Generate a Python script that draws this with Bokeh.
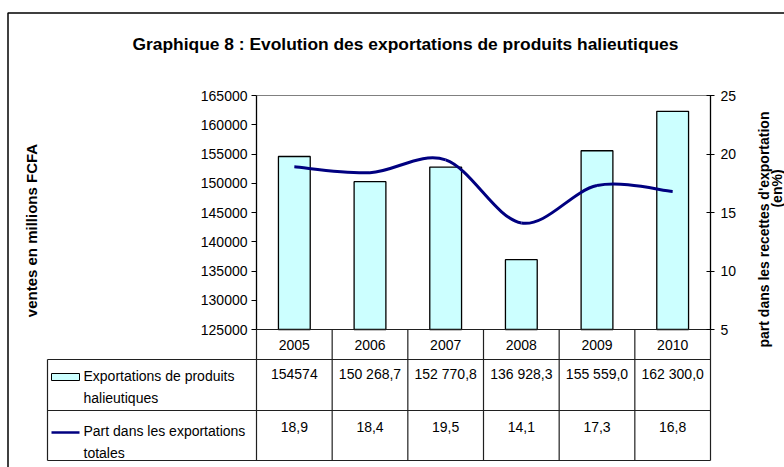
import numpy as np
from bokeh.plotting import figure
from bokeh.models import Range1d, LinearAxis, FixedTicker, NumeralTickFormatter
from bokeh.core.properties import value
from bokeh.embed import file_html
from bokeh.resources import INLINE

# ---------------- data ----------------
years = ["2005", "2006", "2007", "2008", "2009", "2010"]
exports = [154574.0, 150268.7, 152770.8, 136928.3, 155559.0, 162300.0]
export_labels = ["154574", "150 268,7", "152 770,8", "136 928,3", "155 559,0", "162 300,0"]
share = [18.9, 18.4, 19.5, 14.1, 17.3, 16.8]
share_labels = ["18,9", "18,4", "19,5", "14,1", "17,3", "16,8"]
left_ticks = [125000, 130000, 135000, 140000, 145000, 150000, 155000, 160000, 165000]
right_ticks = [5, 10, 15, 20, 25]
series_bar_name = ["Exportations de produits", "halieutiques"]
series_line_name = ["Part dans les exportations", "totales"]
title_text = "Graphique 8 : Evolution des exportations de produits halieutiques"
left_label = "ventes en millions FCFA"
right_label = ["part dans les recettes d'exportation", "(en%)"]

# ---------------- layout (canvas pixels) ----------------
W, H = 784, 467
PL, PR, PT, PB = 256, 710, 95, 329
n = len(years)
unit = (PR - PL) / n
lo, hi = left_ticks[0], left_ticks[-1]
lppx = (hi - lo) / (PB - PT)
ystart = lo - (H - PB) * lppx
rlo, rhi = right_ticks[0], right_ticks[-1]
rppx = (rhi - rlo) / (PB - PT)
rstart = rlo - (H - PB) * rppx

FONT = value("Liberation Sans")
BAR_FILL = "#CCFFFF"
LINE_COL = "#000080"

p = figure(width=W, height=H,
           x_range=Range1d(-PL / unit, (W - PL) / unit),
           y_range=Range1d(ystart, ystart + H * lppx),
           x_axis_type=None, y_axis_type=None,
           output_backend="svg", toolbar_location=None,
           min_border=0, outline_line_color=None)
p.background_fill_color = "white"
p.border_fill_color = "white"
p.extra_y_ranges = {"right": Range1d(rstart, rstart + H * rppx), "px": Range1d(H, 0)}
p.extra_x_ranges = {"px": Range1d(0, W)}

xc = [i + 0.5 for i in range(n)]

# outer frame (top and left visible)
p.line(x=[7.5, 7.5, W], y=[H, 12.5, 12.5], x_range_name="px", y_range_name="px",
       line_color="black", line_width=1.5)

# plot top border
p.segment(x0=[0], y0=[hi], x1=[n], y1=[hi], line_color="#808080", line_width=1)

# bars
p.vbar(x=xc, top=exports, bottom=lo, width=0.42, fill_color=BAR_FILL,
       line_color="black", line_width=1.3)

# smoothed line (Bezier segments from the data points)
sh = np.array(share, dtype=float)
xs = np.array(xc, dtype=float)
spad = np.concatenate([[sh[0]], sh, [sh[-1]]])
xpad = np.concatenate([[xs[0]], xs, [xs[-1]]])
bx0, by0, bx1, by1, cx0, cy0, cx1, cy1 = [], [], [], [], [], [], [], []
for i in range(n - 1):
    bx0.append(xs[i]); by0.append(sh[i])
    bx1.append(xs[i + 1]); by1.append(sh[i + 1])
    cx0.append(xs[i] + (xpad[i + 2] - xpad[i]) / 6)
    cy0.append(sh[i] + (spad[i + 2] - spad[i]) / 6)
    cx1.append(xs[i + 1] - (xpad[i + 3] - xpad[i + 1]) / 6)
    cy1.append(sh[i + 1] - (spad[i + 3] - spad[i + 1]) / 6)
p.bezier(x0=bx0, y0=by0, x1=bx1, y1=by1, cx0=cx0, cy0=cy0, cx1=cx1, cy1=cy1,
         y_range_name="right", line_color=LINE_COL, line_width=3)

# axes
yl = LinearAxis(fixed_location=0, bounds=(lo, hi), ticker=FixedTicker(ticks=left_ticks),
                formatter=NumeralTickFormatter(format="0"),
                major_tick_in=0, major_tick_out=5, minor_tick_in=0, minor_tick_out=0,
                major_label_standoff=4, axis_line_color="black", axis_line_width=1.3,
                major_tick_line_color="black",
                major_label_text_font="Liberation Sans", major_label_text_font_size="14px",
                major_label_text_color="black")
p.add_layout(yl, "left")
yr = LinearAxis(y_range_name="right", fixed_location=n, bounds=(rlo, rhi),
                ticker=FixedTicker(ticks=right_ticks),
                major_tick_in=4, major_tick_out=4, minor_tick_in=0, minor_tick_out=0,
                major_label_standoff=6, axis_line_color="black", axis_line_width=1.3,
                major_tick_line_color="black",
                major_label_text_font="Liberation Sans", major_label_text_font_size="14px",
                major_label_text_color="black")
p.add_layout(yr, "right")

# table grid
TL = (47 - PL) / unit   # table left edge in category units
R1, R2, R3 = 359, 410, 460
p.segment(x0=[0, TL, TL, TL], y0=[PB, R1, R2, R3], x1=[n, n, n, n], y1=[PB, R1, R2, R3],
          y_range_name="px", line_color="#202020", line_width=1.2)
p.segment(x0=list(range(n + 1)), y0=[PB] * (n + 1), x1=list(range(n + 1)), y1=[R3] * (n + 1),
          y_range_name="px", line_color="#202020", line_width=1.2)
p.segment(x0=[TL], y0=[R1], x1=[TL], y1=[R3], y_range_name="px",
          line_color="#202020", line_width=1.2)

# table texts
tk = dict(text_font=FONT, text_font_size="14px", text_color="black",
          text_align="center", text_baseline="middle", y_range_name="px")
p.text(x=xc, y=[344] * n, text=years, **tk)
p.text(x=xc, y=[373] * n, text=export_labels, **tk)
p.text(x=xc, y=[426] * n, text=share_labels, **tk)

lk = dict(text_font=FONT, text_font_size="14px", text_color="black",
          text_align="left", text_baseline="middle", x_range_name="px", y_range_name="px")
p.text(x=[83, 83], y=[375, 397], text=series_bar_name, **lk)
p.text(x=[83, 83], y=[430, 452], text=series_line_name, **lk)

# legend keys
p.quad(left=[51], right=[79], top=[373], bottom=[380], x_range_name="px", y_range_name="px",
       fill_color=BAR_FILL, line_color="black", line_width=1)
p.segment(x0=[51], y0=[432], x1=[79], y1=[432], x_range_name="px", y_range_name="px",
          line_color=LINE_COL, line_width=2.5)

# title and axis labels
p.text(x=[405], y=[43], text=[title_text], text_font=FONT, text_font_size="17.4px",
       text_font_style="bold", text_color="black", text_align="center",
       text_baseline="middle", x_range_name="px", y_range_name="px")
p.text(x=[31], y=[230], text=[left_label], angle=np.pi / 2, text_font=FONT,
       text_font_size="15px", text_font_style="bold", text_color="black",
       text_align="center", text_baseline="middle", x_range_name="px", y_range_name="px")
p.text(x=[763, 776], y=[229, 188], text=right_label, angle=np.pi / 2, text_font=FONT,
       text_font_size="14px", text_font_style="bold", text_color="black",
       text_align="center", text_baseline="middle", x_range_name="px", y_range_name="px")

open("out.html", "w").write(file_html(p, INLINE))
